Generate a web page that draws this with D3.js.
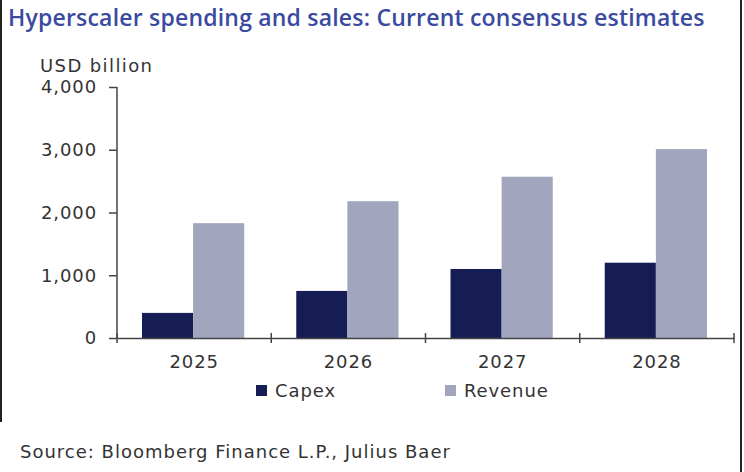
<!DOCTYPE html>
<html lang="en">
<head>
<meta charset="UTF-8">
<title>Hyperscaler spending and sales</title>
<script src="https://cdn.jsdelivr.net/npm/d3@7"></script>
<style>
  body { margin: 0; background: #fff; }
  svg text { font-family: "DejaVu Sans", sans-serif; }
  svg text.title { font-family: "Open Sans", sans-serif; font-weight: 600; }
</style>
</head>
<body>
<script>
const years = ["2025", "2026", "2027", "2028"];
const capex = [400, 750, 1100, 1200];
const revenue = [1830, 2180, 2570, 3010];
const seriesNames = ["Capex", "Revenue"];
const yTicks = [0, 1000, 2000, 3000, 4000];

const width = 744, height = 472;
const colors = { Capex: "#161d55", Revenue: "#a1a5bd" };
const textColor = "#333";

const svg = d3.select("body").append("svg")
    .attr("width", width)
    .attr("height", height);

// frame edges
svg.append("line").attr("x1", 1).attr("x2", 1).attr("y1", 0).attr("y2", 422)
    .attr("stroke", "#222").attr("stroke-width", 2);
svg.append("line").attr("x1", 741).attr("x2", 741).attr("y1", 0).attr("y2", height)
    .attr("stroke", "#222").attr("stroke-width", 2);

svg.append("text")
    .attr("class", "title")
    .attr("x", 8).attr("y", 26)
    .attr("fill", "#3b4aa1")
    .attr("font-size", 23)
    .style("letter-spacing", "0.2px")
    .text("Hyperscaler spending and sales: Current consensus estimates");

const x = d3.scaleBand().domain(years).range([117, 734]).paddingInner(0).paddingOuter(0);
const y = d3.scaleLinear().domain([0, 4000]).range([338, 87]);
const inner = d3.scaleBand().domain(seriesNames).range([25, x.bandwidth() - 27]);

const data = years.map((yr, i) => ({ year: yr, Capex: capex[i], Revenue: revenue[i] }));

const groups = svg.append("g").selectAll("g")
    .data(data)
    .join("g")
    .attr("transform", d => `translate(${x(d.year)},0)`);

groups.selectAll("rect")
    .data(d => seriesNames.map(k => ({ key: k, value: d[k] })))
    .join("rect")
    .attr("x", d => inner(d.key))
    .attr("width", inner.bandwidth())
    .attr("y", d => y(d.value))
    .attr("height", d => y(0) - y(d.value))
    .attr("fill", d => colors[d.key]);

// y axis
const yAxis = svg.append("g")
    .attr("transform", "translate(117,0)")
    .call(d3.axisLeft(y).tickValues(yTicks).tickFormat(d3.format(",")).tickSize(8).tickPadding(12));
yAxis.select(".domain").attr("stroke", "#444").attr("stroke-width", 1.5).attr("d", "M0,87V338");
yAxis.selectAll(".tick line").attr("stroke", "#444").attr("stroke-width", 1.5);
yAxis.selectAll(".tick text").attr("font-size", 18).attr("fill", textColor)
    .style("letter-spacing", "0.9px");

// x axis
const xAxis = svg.append("g")
    .attr("transform", "translate(0,338)")
    .call(d3.axisBottom(x).tickSize(0).tickPadding(17));
xAxis.select(".domain").attr("stroke", "#444").attr("stroke-width", 1.5);
xAxis.selectAll(".tick text").attr("font-size", 18).attr("fill", textColor)
    .style("letter-spacing", "0.9px");
const bounds = years.map(d => x(d)).concat([x(years[years.length - 1]) + x.bandwidth()]);
xAxis.selectAll(".sep")
    .data(bounds)
    .join("line")
    .attr("class", "sep")
    .attr("x1", d => d).attr("x2", d => d)
    .attr("y1", -5).attr("y2", 5)
    .attr("stroke", "#444").attr("stroke-width", 1.5);

svg.append("text")
    .attr("x", 40).attr("y", 72)
    .attr("font-size", 18).attr("fill", textColor)
    .style("letter-spacing", "1.4px")
    .text("USD billion");

// legend
const legendX = [256, 445];
const legend = svg.append("g").selectAll("g")
    .data(seriesNames)
    .join("g")
    .attr("transform", (d, i) => `translate(${legendX[i]},385)`);
legend.append("rect").attr("width", 11).attr("height", 11).attr("fill", d => colors[d]);
legend.append("text").attr("x", 19).attr("y", 12)
    .attr("font-size", 18).attr("fill", textColor)
    .style("letter-spacing", "0.9px")
    .text(d => d);

svg.append("text")
    .attr("x", 20).attr("y", 458)
    .attr("font-size", 18).attr("fill", textColor)
    .style("letter-spacing", "1px")
    .text("Source: Bloomberg Finance L.P., Julius Baer");
</script>
</body>
</html>
